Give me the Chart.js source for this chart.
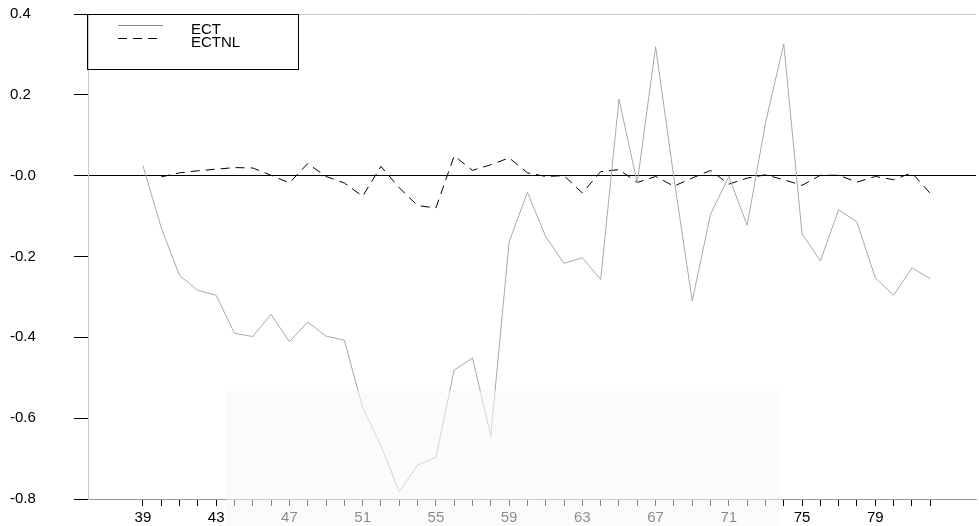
<!DOCTYPE html>
<html>
<head>
<meta charset="utf-8">
<script src="https://cdn.jsdelivr.net/npm/chart.js@4/dist/chart.umd.min.js"></script>
<style>
  body { margin: 0; background: #fff; }
  canvas { display: block; }
</style>
</head>
<body>
<canvas id="myChart" width="979" height="526"></canvas>
<script>
// Anni (asse x)
const years = [39, 40, 41, 42, 43, 44, 45, 46, 47, 48, 49, 50, 51, 52, 53, 54, 55, 56, 57, 58, 59, 60,
               61, 62, 63, 64, 65, 66, 67, 68, 69, 70, 71, 72, 73, 74, 75, 76, 77, 78, 79, 80, 81, 82];

// Serie ECT (linea continua grigia)
const ect = [0.025, -0.129, -0.247, -0.284, -0.296, -0.390, -0.398, -0.343, -0.411, -0.362, -0.397,
             -0.407, -0.574, -0.668, -0.782, -0.716, -0.697, -0.481, -0.451, -0.644, -0.164, -0.041,
             -0.151, -0.217, -0.203, -0.257, 0.189, -0.018, 0.319, -0.005, -0.310, -0.096, -0.002,
             -0.123, 0.130, 0.326, -0.144, -0.211, -0.084, -0.115, -0.253, -0.296, -0.228, -0.255];

// Serie ECTNL (tratteggiata nera), parte dal 40
const ectnl = [null, -0.003, 0.007, 0.012, 0.016, 0.020, 0.019, 0.001, -0.018, 0.030, -0.002,
               -0.018, -0.051, 0.023, -0.030, -0.074, -0.080, 0.049, 0.013, 0.027, 0.044, 0.007,
               -0.002, 0.000, -0.043, 0.010, 0.015, -0.017, -0.002, -0.026, -0.006, 0.013, -0.021,
               -0.006, 0.002, -0.010, -0.024, 0.001, 0.001, -0.016, -0.002, -0.010, 0.007, -0.044];

// Etichette dell'asse x (una ogni 4 anni)
const xLabels = [39, 43, 47, 51, 55, 59, 63, 67, 71, 75, 79];

const FONT = "'Liberation Sans', Arial, sans-serif";

const toPoints = (values) => values.map((v, i) => ({ x: years[i], y: v }));

// Sfumatura del logo in basso (filigrana)
const watermark = {
    id: 'watermark',
    afterDraw(chart) {
        const { ctx } = chart;
        ctx.save();
        ctx.fillStyle = 'rgba(246,248,248,0.55)';
        ctx.fillRect(226, 391, 555, 135);
        ctx.restore();
    }
};

// Legenda disegnata a mano, riquadro in alto a sinistra
const boxLegend = {
    id: 'boxLegend',
    afterDraw(chart) {
        const { ctx, chartArea } = chart;
        const x0 = chartArea.left, y0 = chartArea.top;
        ctx.save();
        ctx.strokeStyle = '#000';
        ctx.lineWidth = 1;
        ctx.strokeRect(x0 - 0.5, y0 + 0.5, 211, 55);
        chart.data.datasets.forEach((ds, i) => {
            const y = y0 + 11 + i * 13;
            ctx.beginPath();
            ctx.strokeStyle = i === 0 ? '#8a8a8a' : '#000';
            ctx.setLineDash(ds.borderDash || []);
            ctx.moveTo(x0 + 30, y + 0.5);
            ctx.lineTo(x0 + 75, y + 0.5);
            ctx.stroke();
            ctx.setLineDash([]);
            ctx.fillStyle = '#000';
            ctx.font = '15px ' + FONT;
            ctx.textBaseline = 'alphabetic';
            ctx.fillText(ds.label, x0 + 103, y + 9);
        });
        ctx.restore();
    }
};

new Chart("myChart", {
    type: "line",
    data: {
        datasets: [{
            label: "ECT",
            data: toPoints(ect),
            borderColor: "#a9a9a9",
            borderWidth: 1,
            pointRadius: 0,
            fill: false,
            tension: 0,
        },
        {
            label: "ECTNL",
            data: toPoints(ectnl),
            borderColor: "#000",
            borderWidth: 1,
            borderDash: [9, 6],
            pointRadius: 0,
            fill: false,
            tension: 0,
        }],
    },
    options: {
        responsive: false,
        animation: false,
        devicePixelRatio: 1,
        layout: { padding: { left: 10, top: 14, right: 0, bottom: 0 } },
        plugins: {
            legend: { display: false },
            tooltip: { enabled: false },
        },
        scales: {
            x: {
                type: 'linear',
                min: 36,
                max: 84.5,
                afterFit: (s) => { s.height = 27; },
                border: { color: '#9a9a9a', width: 1 },
                grid: {
                    drawOnChartArea: false,
                    drawTicks: true,
                    tickLength: 7,
                    tickColor: (c) => (c.tick && c.tick.value >= 39 && c.tick.value <= 82) ? '#000' : 'rgba(0,0,0,0)',
                },
                ticks: {
                    stepSize: 1,
                    autoSkip: false,
                    maxRotation: 0,
                    padding: 3,
                    color: '#000',
                    font: { family: FONT, size: 15 },
                    callback: (v) => xLabels.includes(v) ? String(v) : '',
                },
            },
            y: {
                min: -0.8,
                max: 0.4,
                afterFit: (s) => { s.width = 78; },
                border: { color: '#c8c8c8', width: 1 },
                grid: {
                    drawTicks: true,
                    tickLength: 14,
                    tickColor: '#000',
                    color: (c) => {
                        if (!c.tick) return 'rgba(0,0,0,0)';
                        if (Math.abs(c.tick.value) < 1e-9) return '#000';
                        if (Math.abs(c.tick.value - 0.4) < 1e-9) return '#c8c8c8';
                        return 'rgba(0,0,0,0)';
                    },
                },
                ticks: {
                    stepSize: 0.2,
                    crossAlign: 'far',
                    color: '#000',
                    font: { family: FONT, size: 15 },
                    callback: (v) => Math.abs(v) < 1e-9 ? '-0.0' : v.toFixed(1),
                },
            },
        },
    },
    plugins: [watermark, boxLegend],
});
</script>
</body>
</html>
